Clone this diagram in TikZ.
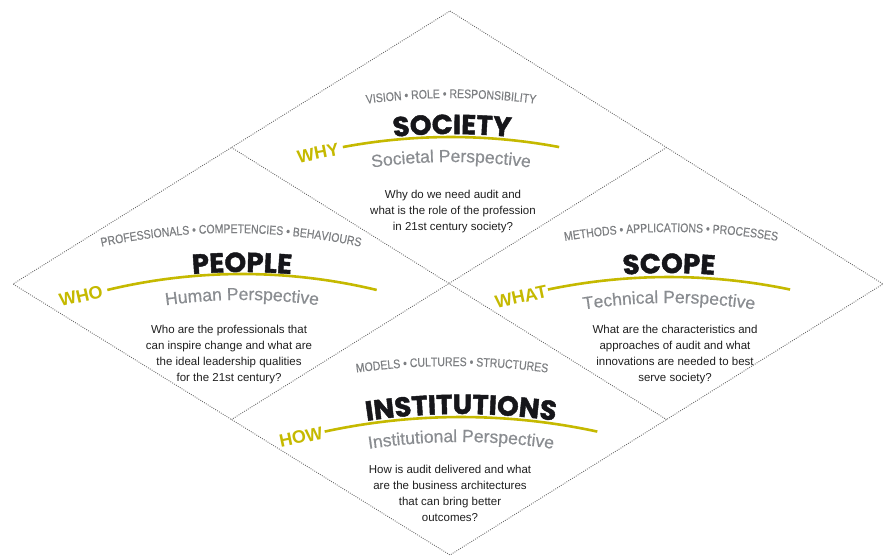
\documentclass[tikz,border=0pt]{standalone}
\usepackage{fontspec}
\setmainfont{Liberation Sans}
\newfontfamily\subfont[FakeStretch=0.84,FakeBold=0.4]{Liberation Sans}
\newfontfamily\titlefont[BoldFeatures={FakeBold=1.6}]{Poppins}
\newfontfamily\persfont[FakeBold=0.5]{Liberation Sans}
\usetikzlibrary{decorations.text,calc}
\definecolor{gold}{RGB}{197,185,0}
\definecolor{persgray}{RGB}{138,141,145}
\definecolor{subgray}{RGB}{125,127,130}
\definecolor{titleblack}{RGB}{22,22,26}
\definecolor{dotgray}{RGB}{105,105,105}
\newcommand\arctext[5]{%
  \path[decorate,decoration={text along path,text align=center,text={#5}}]
    ({#1-#3*sin(#4)},{#2+#3*cos(#4)}) arc[start angle={90+#4},end angle={90-#4},radius=#3];}
\newcommand\goldarc[4]{%
  \draw[goldline] ({#1-#3*sin(#4)},{#2+#3*cos(#4)}) arc[start angle={90+#4},end angle={90-#4},radius=#3];}
\newcommand\SUB{|\subfont\fontsize{12.5}{14}\selectfont\color{subgray}|}
\newcommand\TTL{|\titlefont\bfseries\fontsize{27.5}{30}\selectfont\color{titleblack}|}
\newcommand\PER{|\persfont\fontsize{17.5}{20}\selectfont\color{persgray}|}
\tikzset{
  dotline/.style={draw=dotgray,line width=0.9pt,dash pattern=on 0.9pt off 1.3pt},
  goldline/.style={draw=gold,line width=2.6pt},
  qlabel/.style={text=gold,font=\bfseries\fontsize{18}{20}\selectfont,inner sep=0pt},
  body/.style={align=center,font=\fontsize{11.5}{16}\selectfont,text=black!88,inner sep=0pt}
}
\begin{document}
\begin{tikzpicture}[x=1pt,y=1pt]
\useasboundingbox (0,0) rectangle (884,-556);
% diamond
\coordinate (T) at (450,-11);
\coordinate (L) at (13,-284);
\coordinate (R) at (883,-284);
\coordinate (B) at (450,-555);
\coordinate (TL) at ($(T)!0.5!(L)$);
\coordinate (TR) at ($(T)!0.5!(R)$);
\coordinate (BL) at ($(B)!0.5!(L)$);
\coordinate (BR) at ($(B)!0.5!(R)$);
\draw[dotline] (T) -- (R) -- (B) -- (L) -- cycle;
\draw[dotline] (TL) -- (BR);
\draw[dotline] (TR) -- (BL);

% SOCIETY panel (top)
\arctext{451}{-725}{627}{9.2}{\SUB VISION • ROLE • RESPONSIBILITY}
\arctext{452}{-725}{591}{7.4}{\TTL SOCIETY}
\goldarc{451}{-725}{588}{10.6}
\arctext{451}{-725}{563}{9.6}{\PER Societal Perspective}
\node[qlabel,rotate=11] (why) at (318,-153) {WHY};
\node[body] (qwhy) at (453,-212) {Why do we need audit and\\what is the role of the profession\\in 21st century society?};

% PEOPLE panel (left)
\arctext{231}{-851}{618}{13.8}{\SUB PROFESSIONALS • COMPETENCIES • BEHAVIOURS}
\arctext{242}{-851}{579}{6.8}{\TTL PEOPLE}
\goldarc{242}{-851}{577}{13.5}
\arctext{242}{-851}{551}{9.6}{\PER Human Perspective}
\node[qlabel,rotate=13] (who) at (81,-296) {WHO};
\node[body] (qwho) at (229,-355) {Who are the professionals that\\can inspire change and what are\\the ideal leadership qualities\\for the 21st century?};

% SCOPE panel (right)
\arctext{671}{-869}{637}{11}{\SUB METHODS • APPLICATIONS • PROCESSES}
\arctext{669}{-869}{596}{6.4}{\TTL SCOPE}
\goldarc{669}{-869}{592}{11.8}
\arctext{669}{-869}{566}{10.2}{\PER Technical Perspective}
\node[qlabel,rotate=12] (what) at (521,-297) {WHAT};
\node[body] (qwhat) at (675,-355) {What are the characteristics and\\approaches of audit and what\\innovations are needed to best\\serve society?};

% INSTITUTIONS panel (bottom)
\arctext{452}{-1062}{696}{9.2}{\SUB MODELS • CULTURES • STRUCTURES}
\arctext{461}{-1062}{648}{10}{\TTL INSTITUTIONS}
\goldarc{461}{-1062}{645}{12.2}
\arctext{461}{-1062}{620}{10}{\PER Institutional Perspective}
\node[qlabel,rotate=12] (how) at (301,-437) {HOW};
\node[body] (qhow) at (450,-493) {How is audit delivered and what\\are the business architectures\\that can bring better\\outcomes?};
\end{tikzpicture}
\end{document}
